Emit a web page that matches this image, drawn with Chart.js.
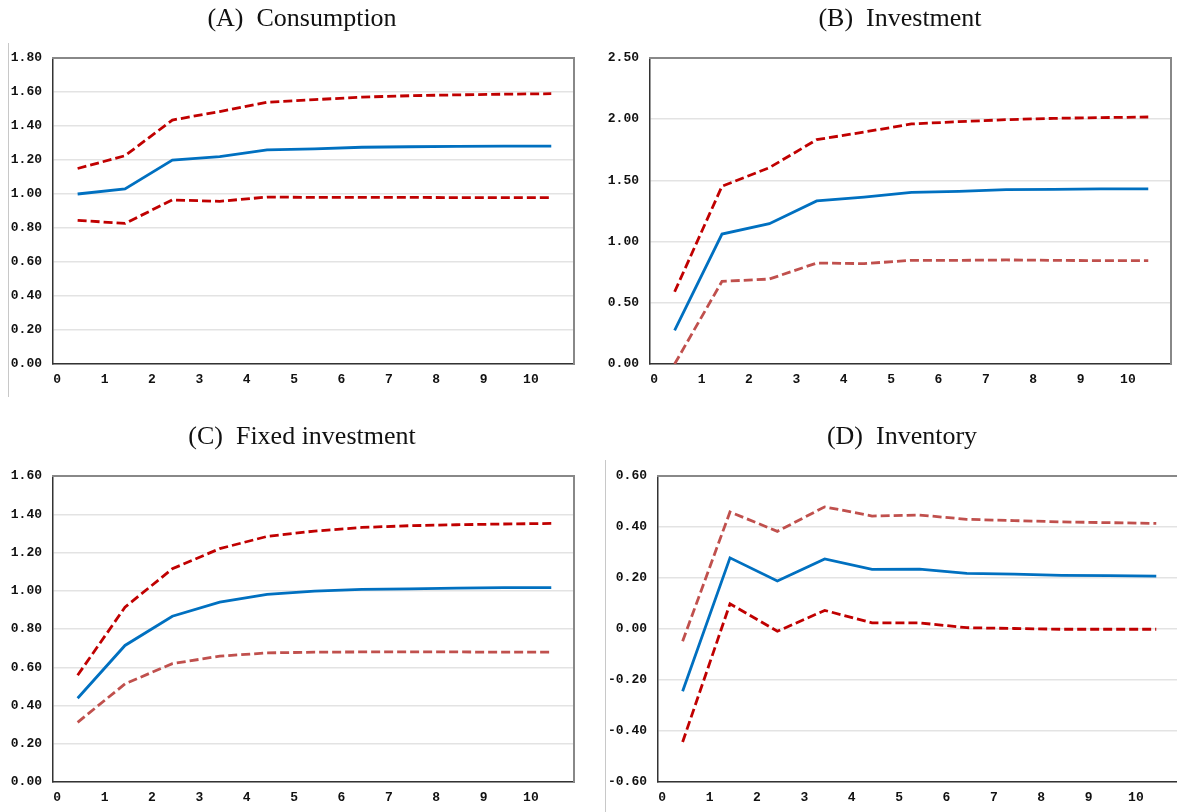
<!DOCTYPE html>
<html>
<head>
<meta charset="utf-8">
<script src="https://cdn.jsdelivr.net/npm/chart.js@4.4.1/dist/chart.umd.min.js"></script>
<style>
  html, body { margin: 0; padding: 0; background: #fff; }
  body { width: 1177px; height: 812px; position: relative; overflow: hidden; }
  canvas { position: absolute; }
  .rule { position: absolute; width: 0; border-left: 1px solid #c8c8c8; }
</style>
</head>
<body>
<div class="rule" style="left:8px;top:43px;height:354px"></div>
<div class="rule" style="left:605px;top:460px;height:352px"></div>
<canvas id="consumo" width="604" height="394" style="left:0;top:0"></canvas>
<canvas id="inversion" width="610" height="394" style="left:595px;top:0"></canvas>
<canvas id="fija" width="604" height="394" style="left:0;top:418px"></canvas>
<canvas id="inventario" width="624" height="394" style="left:590px;top:418px"></canvas>
<script>
  'use strict'

  const horizontes = [0, 1, 2, 3, 4, 5, 6, 7, 8, 9, 10];

  const consumoMedio = [1.00, 1.03, 1.20, 1.22, 1.26, 1.265, 1.275, 1.278, 1.28, 1.282, 1.282];
  const consumoSup = [1.15, 1.225, 1.435, 1.485, 1.54, 1.555, 1.57, 1.578, 1.583, 1.587, 1.59];
  const consumoInf = [0.845, 0.827, 0.965, 0.957, 0.982, 0.980, 0.980, 0.980, 0.979, 0.979, 0.979];

  const inversionMedio = [0.275, 1.062, 1.146, 1.332, 1.364, 1.402, 1.411, 1.424, 1.427, 1.43, 1.43];
  const inversionSup = [0.59, 1.452, 1.604, 1.833, 1.895, 1.961, 1.98, 1.996, 2.007, 2.013, 2.018];
  const inversionInf = [0.0, 0.675, 0.694, 0.825, 0.82, 0.847, 0.847, 0.85, 0.847, 0.844, 0.844];

  const fijaMedio = [0.438, 0.714, 0.867, 0.94, 0.981, 0.998, 1.007, 1.01, 1.014, 1.016, 1.016];
  const fijaSup = [0.558, 0.914, 1.115, 1.22, 1.284, 1.312, 1.331, 1.34, 1.345, 1.349, 1.352];
  const fijaInf = [0.312, 0.513, 0.619, 0.658, 0.675, 0.679, 0.68, 0.68, 0.68, 0.679, 0.679];

  const inventarioMedio = [-0.244, 0.279, 0.188, 0.275, 0.234, 0.235, 0.218, 0.215, 0.21, 0.209, 0.207];
  const inventarioSup = [-0.048, 0.459, 0.383, 0.479, 0.443, 0.447, 0.43, 0.425, 0.42, 0.417, 0.414];
  const inventarioInf = [-0.443, 0.099, -0.009, 0.073, 0.024, 0.024, 0.005, 0.002, -0.001, -0.001, -0.001];

  const azul = '#0070C0';
  const rojo = '#C00000';
  const rojoClaro = '#C0504D';
  const desplazamiento = 0.43; // los puntos caen entre las marcas del eje

  const fuenteEje = { family: 'Liberation Mono', size: 13, weight: 'bold' };

  function serie(valores, color, guiones) {
    return {
      data: valores.map((v, i) => ({ x: horizontes[i] + desplazamiento, y: v })),
      borderColor: color,
      borderWidth: 2.8,
      borderDash: guiones,
      borderCapStyle: 'butt',
      pointRadius: 0,
      tension: 0,
      xAxisID: 'x',
      yAxisID: 'y'
    };
  }

  function crearPanel(id, titulo, medio, sup, inf, colorSup, colorInf, yMin, yMax, paso, anchoY, margenDer) {
    new Chart(document.getElementById(id), {
      type: 'line',
      data: {
        datasets: [
          serie(medio, azul, []),
          serie(sup, colorSup, [9, 4]),
          serie(inf, colorInf, [9, 4])
        ]
      },
      options: {
        responsive: false,
        animation: false,
        layout: { padding: 0 },
        plugins: {
          legend: { display: false },
          tooltip: { enabled: false },
          title: {
            display: true,
            text: titulo,
            color: '#111',
            font: { family: 'Liberation Serif', size: 26, weight: 'normal' },
            padding: { top: 4, bottom: 22.8 }
          }
        },
        scales: {
          x: {
            type: 'linear',
            min: -0.09,
            max: 10.91,
            afterBuildTicks: (s) => { s.ticks = horizontes.map(v => ({ value: v })); },
            afterFit: (s) => { s.height = 30; },
            grid: { display: false, drawTicks: false },
            border: { color: '#333', width: 1.5 },
            ticks: { font: fuenteEje, color: '#111', padding: 8, maxRotation: 0, callback: (v) => String(v) }
          },
          y: {
            min: yMin,
            max: yMax,
            afterFit: (s) => { s.width = anchoY; },
            grid: { color: '#e3e3e3', lineWidth: 1.5, drawTicks: false },
            border: { color: '#333', width: 1.5 },
            ticks: {
              stepSize: paso,
              font: fuenteEje,
              color: '#111',
              padding: 11,
              callback: (v) => (Math.abs(v) < 1e-9 ? 0 : v).toFixed(2)
            }
          },
          x2: {
            type: 'linear',
            position: 'top',
            afterFit: (s) => { s.height = 0; },
            grid: { display: false, drawTicks: false },
            ticks: { display: false },
            border: { color: '#888', width: 2 }
          },
          y2: {
            position: 'right',
            afterFit: (s) => { s.width = margenDer; },
            grid: { display: false, drawTicks: false },
            ticks: { display: false },
            border: { color: '#888', width: 2 }
          }
        }
      }
    });
  }

  crearPanel('consumo', '(A)  Consumption', consumoMedio, consumoSup, consumoInf, rojo, rojo, 0, 1.8, 0.2, 53, 30);
  crearPanel('inversion', '(B)  Investment', inversionMedio, inversionSup, inversionInf, rojo, rojoClaro, 0, 2.5, 0.5, 55, 34);
  crearPanel('fija', '(C)  Fixed investment', fijaMedio, fijaSup, fijaInf, rojo, rojoClaro, 0, 1.6, 0.2, 53, 30);
  crearPanel('inventario', '(D)  Inventory', inventarioMedio, inventarioSup, inventarioInf, rojoClaro, rojo, -0.6, 0.6, 0.2, 68, 35);
</script>
</body>
</html>
